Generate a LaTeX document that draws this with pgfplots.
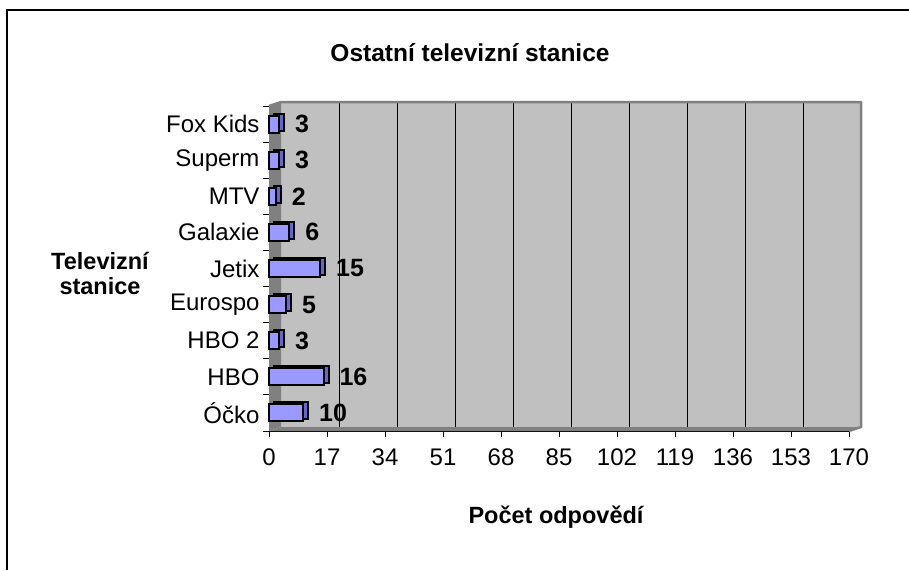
\documentclass[border=0pt]{standalone}
\usepackage{pgfplots}
\usepackage{pgfplotstable}
\pgfplotsset{compat=1.18}
\usepackage{fontspec}
\setmainfont{Liberation Sans}
\definecolor{wall}{HTML}{C0C0C0}
\definecolor{sidewall}{HTML}{808080}
\definecolor{barc}{HTML}{9999FF}
\definecolor{barside}{HTML}{6666CC}

\pgfplotstableread{
y v
1 10
2 16
3 3
4 5
5 15
6 6
7 2
8 3
9 3
}\data

\begin{document}
\begin{tikzpicture}[x=1pt,y=1pt]
\useasboundingbox (0,0) rectangle (909,570);
\draw[line width=2.5pt] (7,0) -- (7,560) -- (911,560);
\node[font=\fontsize{24.5}{28}\selectfont\bfseries, anchor=base] at (470,508) {Ostatní televizní stanice};
\node[font=\fontsize{23.5}{27}\selectfont\bfseries, anchor=base] at (556,47) {Počet odpovědí};
\node[font=\fontsize{23.5}{27}\selectfont\bfseries, anchor=base] at (100,300) {Televizní};
\node[font=\fontsize{23.5}{27}\selectfont\bfseries, anchor=base] at (100,275) {stanice};
\begin{axis}[
  at={(269pt,139pt)}, anchor=south west,
  scale only axis, width=580pt, height=325pt,
  xmin=0, xmax=170, ymin=0.5, ymax=9.5,
  clip=false,
  axis lines*=left,
  axis line style={black, line width=1pt},
  xtick={0,17,...,170},
  ytick={1,...,9},
  yticklabels={Óčko,HBO,HBO 2,Eurospo,Jetix,Galaxie,MTV,Superm,Fox Kids},
  minor ytick={0.5,1.5,...,9.5},
  major y tick style={draw=none},
  tick align=outside,
  major tick length=6pt, minor tick length=6pt,
  tick style={black, line width=1pt},
  tick label style={font=\fontsize{24}{28}\selectfont},
  xticklabel style={yshift=-8pt},
  /pgf/number format/assume math mode=true,
  xbar, bar width=17pt,
]
  % back wall
  \fill[wall] ([shift={(12pt,4pt)}]axis cs:0,0.5) rectangle ([shift={(12pt,4pt)}]axis cs:170,9.5);
  % left wall
  \fill[sidewall] (axis cs:0,0.5) -- (axis cs:0,9.5) -- ([shift={(12pt,4pt)}]axis cs:0,9.5) -- ([shift={(12pt,4pt)}]axis cs:0,0.5) -- cycle;
  % floor
  \fill[sidewall] (axis cs:0,0.5) -- (axis cs:170,0.5) -- ([shift={(12pt,4pt)}]axis cs:170,0.5) -- ([shift={(12pt,4pt)}]axis cs:0,0.5) -- cycle;
  % grid lines on back wall
  \pgfplotsinvokeforeach{17,34,51,68,85,102,119,136,153}{
    \draw[black, line width=0.9pt] ([shift={(12pt,4pt)}]axis cs:#1,0.5) -- ([shift={(12pt,4pt)}]axis cs:#1,9.5);
  }
  % wall border
  \draw[sidewall, line width=2.5pt, line join=round] (axis cs:0,9.5) -- ([shift={(12pt,4pt)}]axis cs:0,9.5) -- ([shift={(12pt,4pt)}]axis cs:170,9.5) -- ([shift={(12pt,4pt)}]axis cs:170,0.5) -- (axis cs:170,0.5);
\addplot[bar shift=0pt, fill=barside, draw=black, line width=2pt, xshift=5pt, yshift=2pt] table[x=v, y=y] {\data};
\addplot[bar shift=0pt, fill=barc, draw=black, line width=2pt,
  nodes near coords,
  nodes near coords style={anchor=west, inner sep=0pt, xshift=15pt, font=\fontsize{25}{29}\selectfont\bfseries, /pgf/number format/assume math mode=true}]
  table[x=v, y=y] {\data};
\end{axis}
\end{tikzpicture}
\end{document}
